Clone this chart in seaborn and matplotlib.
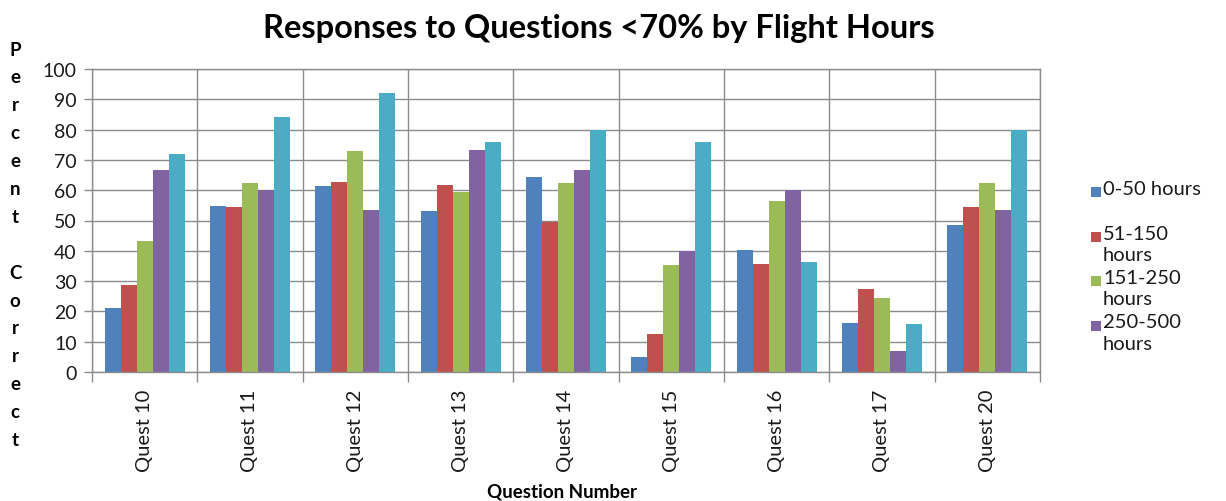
import numpy as np
import pandas as pd
import seaborn as sns
import matplotlib.pyplot as plt
from matplotlib.patches import Rectangle

# Question categories and percent-correct by flight-hour group
questions = ["Quest 10", "Quest 11", "Quest 12", "Quest 13", "Quest 14",
             "Quest 15", "Quest 16", "Quest 17", "Quest 20"]
hours_0_50 = [21.1, 54.7, 61.3, 53.1, 64.5, 5.0, 40.1, 16.3, 48.5]
hours_51_150 = [28.6, 54.4, 62.8, 61.6, 49.4, 12.5, 35.7, 27.3, 54.4]
hours_151_250 = [43.3, 62.3, 73.0, 59.4, 62.3, 35.2, 56.6, 24.5, 62.3]
hours_250_500 = [66.7, 60.0, 53.4, 73.3, 66.7, 40.0, 60.0, 6.8, 53.4]
hours_500_plus = [72.0, 84.0, 92.0, 75.9, 80.0, 75.9, 36.2, 16.0, 80.0]

group_names = ["0-50 hours", "51-150 hours", "151-250 hours",
               "250-500 hours", "500+ hours"]
legend_labels = ["0-50 hours", "51-150\nhours", "151-250\nhours", "250-500\nhours"]
colors = ["#4F81BD", "#C0504D", "#9BBB59", "#8064A2", "#4BACC6"]
y_ticks = list(range(0, 101, 10))

series = [hours_0_50, hours_51_150, hours_151_250, hours_250_500, hours_500_plus]
df = pd.DataFrame({
    "question": np.tile(questions, len(series)),
    "group": np.repeat(group_names, len(questions)),
    "percent": np.concatenate(series),
})

sns.set_theme(style="white")
plt.rcParams["font.family"] = ["Lato", "DejaVu Sans"]

W, H = 1226, 502
fig = plt.figure(figsize=(W / 100, H / 100), dpi=100)
ax = fig.add_axes([92 / W, 1 - 373 / H, (1040 - 92) / W, (373 - 70) / H])

sns.barplot(data=df, x="question", y="percent", hue="group",
            hue_order=group_names, palette=colors, saturation=1,
            width=0.76, linewidth=0, legend=False, ax=ax)

grid_color = "#8C8C8C"
text_color = "#1A1A1A"
ax.set_ylim(0, 100)
ax.set_xlim(-0.5, len(questions) - 0.5)
ax.set_yticks(y_ticks)
ax.set_xticks(np.arange(-0.5, len(questions), 1), minor=True)
ax.grid(which="major", axis="y", color=grid_color, linewidth=1)
ax.grid(which="minor", axis="x", color=grid_color, linewidth=1)
ax.grid(which="major", axis="x", visible=False)
ax.set_axisbelow(True)
for sp in ax.spines.values():
    sp.set_visible(True)
    sp.set_color(grid_color)
    sp.set_linewidth(1)

ax.tick_params(axis="y", which="major", left=True, length=6, width=1,
               color=grid_color, pad=5, labelsize=14, labelcolor=text_color)
ax.tick_params(axis="x", which="major", bottom=False, length=0, pad=12,
               labelsize=14.5, labelcolor=text_color, labelrotation=90)
ax.tick_params(axis="x", which="minor", bottom=True, length=7, width=1,
               color=grid_color)
for lbl in ax.get_xticklabels():
    lbl.set_verticalalignment("top")
    lbl.set_horizontalalignment("center")

ax.set_xlabel("")
ax.set_ylabel("")

# Title and axis titles
fig.text(599 / W, 1 - 29 / H, "Responses to Questions <70% by Flight Hours",
         ha="center", va="center", fontsize=23.5, fontweight="bold",
         color="black")
fig.text(562 / W, 1 - 492 / H, "Question Number", ha="center", va="center",
         fontsize=13.5, fontweight="bold", color="black")
for i, ch in enumerate("Percent Correct"):
    fig.text(15 / W, 1 - (50 + i * 27.9) / H, ch, ha="center", va="center",
             fontsize=13.5, fontweight="bold", color="black")

# Legend entries built from the group labels and palette
for i, (lab, col) in enumerate(zip(legend_labels, colors)):
    yc = 193 + 44.5 * i
    fig.add_artist(Rectangle((1091 / W, 1 - (yc + 5) / H), 10 / W, 10 / H,
                             transform=fig.transFigure, facecolor=col,
                             edgecolor="none"))
    fig.text(1103 / W, 1 - (yc - 12) / H, lab, ha="left", va="top",
             fontsize=14.5, color=text_color, linespacing=1.3)

fig.savefig("out.png", dpi=100)
